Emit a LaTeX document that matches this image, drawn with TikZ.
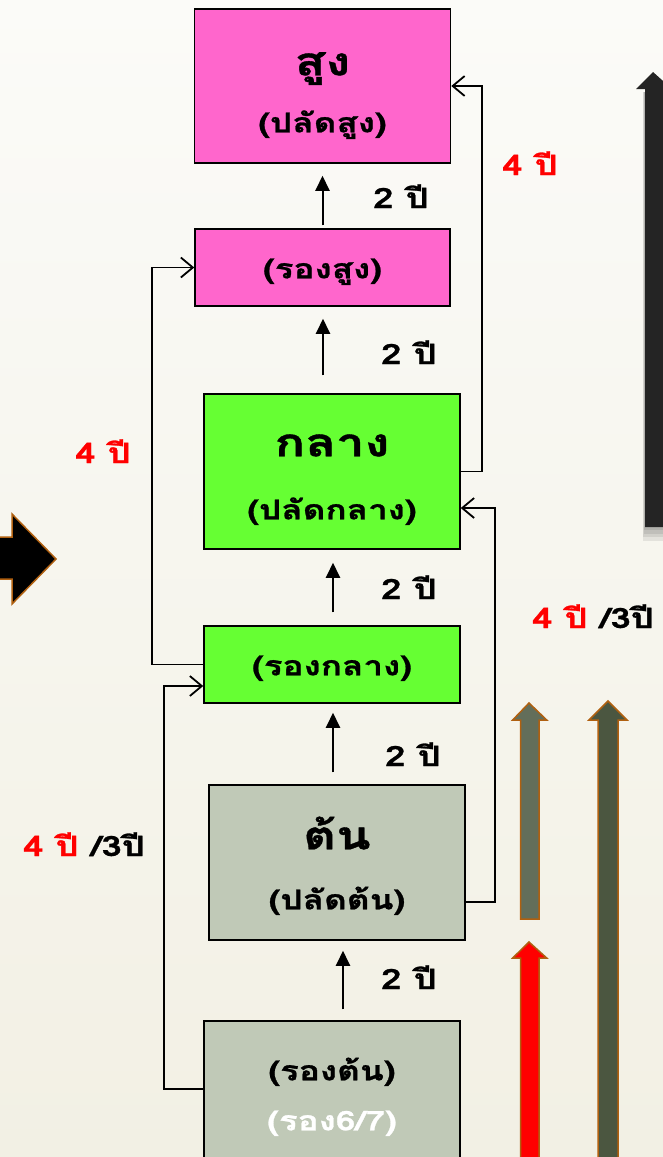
\documentclass[tikz,border=0pt]{standalone}
\usepackage{fontspec}
\usepackage{tikz}
\usetikzlibrary{positioning,arrows.meta}
\newfontfamily\thai[Script=Thai, FakeStretch=1.3, BoldFeatures={FakeBold=1}]{Loma}
\definecolor{pinkbox}{RGB}{255,102,204}
\definecolor{greenbox}{RGB}{102,255,51}
\definecolor{graybox}{RGB}{192,201,183}
\definecolor{rimbrown}{RGB}{176,96,16}
\definecolor{slatearrow}{RGB}{99,110,90}
\definecolor{olivearrow}{RGB}{75,86,64}

\begin{document}
\begin{tikzpicture}[x=1pt, y=-1pt,
  levelbox/.style={draw, line width=1.5pt, inner sep=0pt, minimum width=256pt},
  titletext/.style={anchor=base, inner sep=0pt, font=\thai\bfseries\fontsize{39}{40}\selectfont},
  subtext/.style={anchor=base, inner sep=0pt, font=\thai\bfseries\fontsize{27}{30}\selectfont},
  uparrow/.style={-{Triangle[length=15pt,width=14pt]}, line width=2pt},
  sidearrow/.style={-{Straight Barb[length=12pt,width=20pt]}, line width=1.8pt},
  yearlabel/.style={anchor=base, inner sep=0pt, font=\thai\bfseries\fontsize{28}{30}\selectfont},
  blockarrow/.style={draw=rimbrown, line width=1.5pt, line join=miter}]
\useasboundingbox (0,0) rectangle (663,1157);
\clip (0,0) rectangle (663,1157);
\shade[top color={rgb,255:red,251;green,251;blue,248}, bottom color={rgb,255:red,242;green,240;blue,228}] (0,0) rectangle (663,1157);

% boxes
\node[levelbox, fill=pinkbox, minimum height=154pt] (s) at (322.5,86) {};
\node[levelbox, fill=pinkbox, minimum height=77pt, minimum width=255pt] (rs) at (322.5,267.5) {};
\node[levelbox, fill=greenbox, minimum height=155pt] (k) at (332,471.5) {};
\node[levelbox, fill=greenbox, minimum height=77pt] (rk) at (332,664.5) {};
\node[levelbox, fill=graybox, minimum height=155pt] (t) at (337,862.5) {};
\node[levelbox, fill=graybox, minimum height=142pt] (rt) at (332,1092) {};

% texts in the boxes
\node[titletext] (s-a) at ([yshift=-67pt]s.north) {สูง};
\node[subtext] (s-b) at ([yshift=-124pt]s.north) {(ปลัดสูง)};
\node[subtext] (rs-a) at ([yshift=-50pt]rs.north) {(รองสูง)};
\node[titletext] (k-a) at ([yshift=-63pt]k.north) {กลาง};
\node[subtext] (k-b) at ([yshift=-126pt]k.north) {(ปลัดกลาง)};
\node[subtext] (rk-a) at ([yshift=-50pt]rk.north) {(รองกลาง)};
\node[titletext] (t-a) at ([yshift=-65pt]t.north) {ต้น};
\node[subtext] (t-b) at ([yshift=-125pt]t.north) {(ปลัดต้น)};
\node[subtext] (rt-a) at ([yshift=-60pt]rt.north) {(รองต้น)};
\node[subtext, text=white] (rt-b) at ([yshift=-110pt]rt.north) {(รอง6/7)};

% steps of two years
\draw[uparrow, shorten <=3pt, shorten >=12pt] (rs.north) -- (s.south);
\draw[uparrow, shorten <=18pt, shorten >=12pt] ([xshift=-9pt]k.north) -- ([xshift=0.5pt]rs.south);
\draw[uparrow, shorten <=13pt, shorten >=13pt] ([xshift=1pt]rk.north) -- ([xshift=1pt]k.south);
\draw[uparrow, shorten <=12pt, shorten >=9pt] ([xshift=-4pt]t.north) -- ([xshift=1pt]rk.south);
\draw[uparrow, shorten <=11pt, shorten >=10pt] ([xshift=11pt]rt.north) -- ([xshift=6pt]t.south);
\node[yearlabel] (y1) at (401,208) {2 ปี};
\node[yearlabel] (y2) at (409,364) {2 ปี};
\node[yearlabel] (y3) at (409,599) {2 ปี};
\node[yearlabel] (y4) at (413,766) {2 ปี};
\node[yearlabel] (y5) at (409,989) {2 ปี};

% four year jumps
\draw[sidearrow] (rk.west) -- ++(-51,0) |- (rs.west);
\draw[sidearrow] ([yshift=3pt]rt.west) -- ++(-39,0) |- ([yshift=-21.5pt]rk.west);
\draw[sidearrow] (k.east) -- ++(21,0) |- (s.east);
\draw[sidearrow] ([yshift=-39.5pt]t.east) -- ++(29,0) |- ([yshift=-36.5pt]k.east);
\node[yearlabel, text=red] (j1) at (103,463) {4 ปี};
\node[yearlabel] (j2) at (84,856) {\textcolor{red}{4 ปี} /3ปี};
\node[yearlabel, text=red] (j3) at (530,175) {4 ปี};
\node[yearlabel] (j4) at (593,628) {\textcolor{red}{4 ปี} /3ปี};

% block arrows
\foreach \o in {0,1,2,3}
  \fill[black, opacity=0.08] (644-\o*0.5,92) rectangle (670,530+\o*3.5);
\fill[black!86] (653,72) -- (636,89) -- (645,89) -- (645,527) -- (672,527) -- (672,89) -- cycle;
\draw[blockarrow, fill=black] (-10,537) -- (12,537) -- (12,514) -- (56,559) -- (12,604) -- (12,579) -- (-10,579) -- cycle;
\draw[blockarrow, fill=slatearrow] (529,703) -- (512.7,720) -- (520.7,720) -- (520.7,919) -- (539,919) -- (539,720) -- (546.7,720) -- cycle;
\draw[blockarrow, fill=red] (529,942) -- (512.7,958) -- (520.7,958) -- (520.7,1165) -- (539,1165) -- (539,958) -- (546.7,958) -- cycle;
\draw[blockarrow, fill=olivearrow] (608,701) -- (589,720) -- (598,720) -- (598,1165) -- (618,1165) -- (618,720) -- (627,720) -- cycle;
\end{tikzpicture}
\end{document}
